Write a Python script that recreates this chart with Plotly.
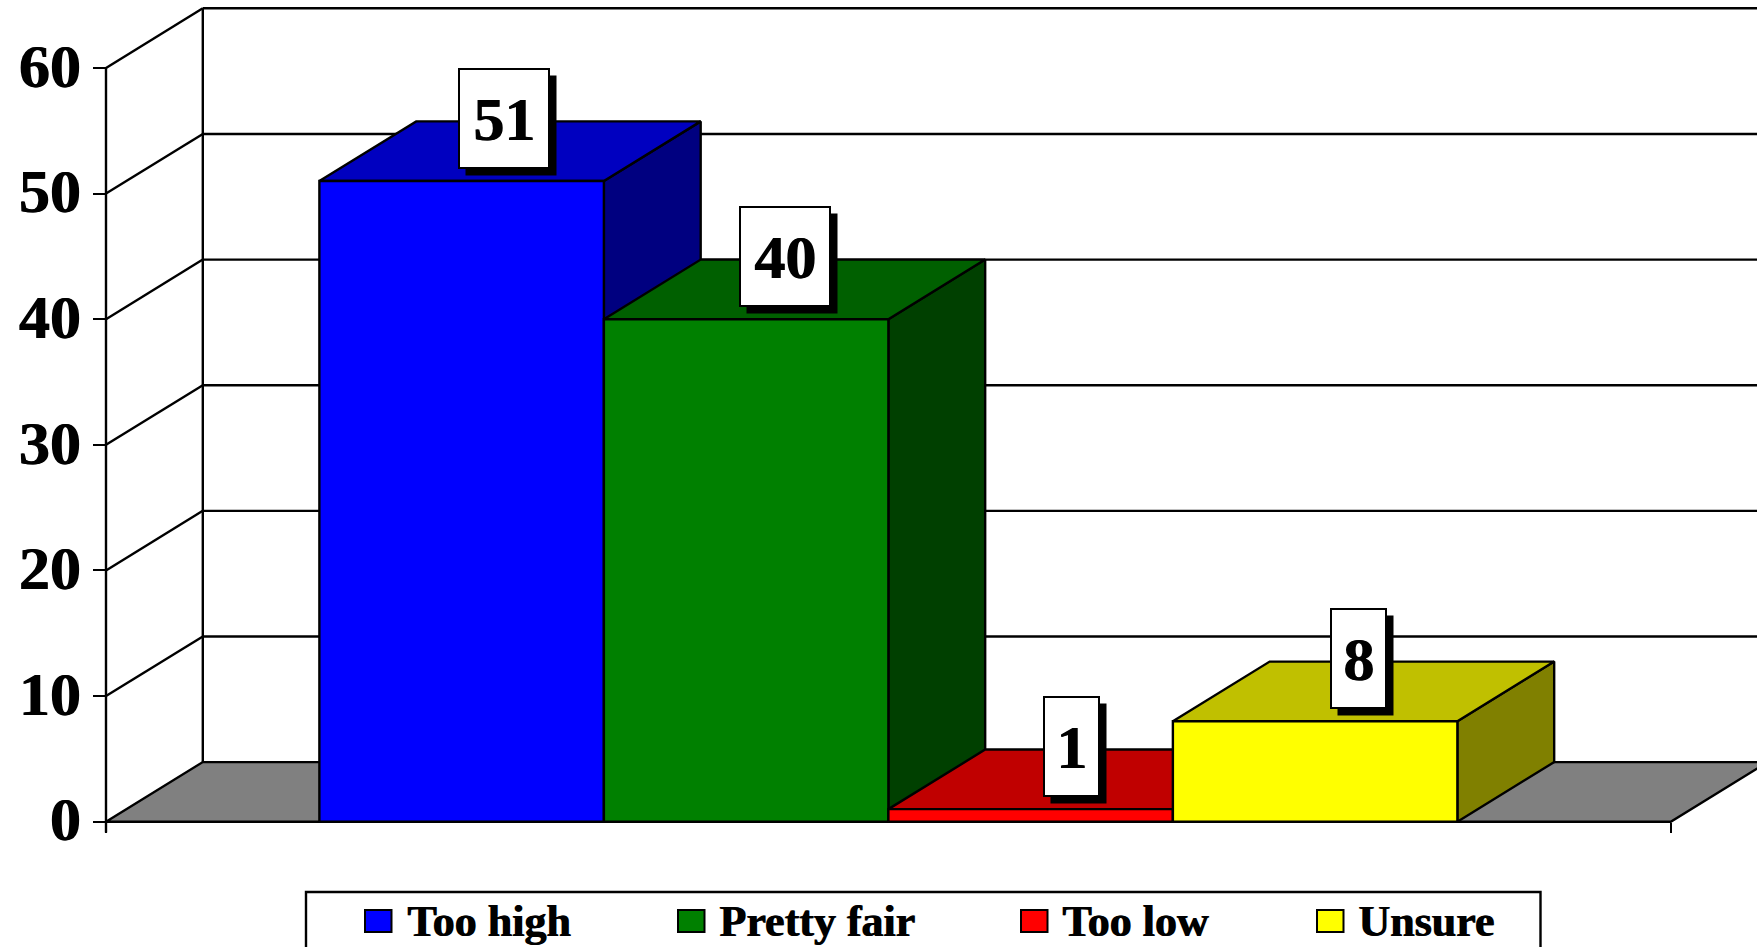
import plotly.graph_objects as go

categories = ["Too high", "Pretty fair", "Too low", "Unsure"]
values = [51, 40, 1, 8]
front_colors = ["#0000FF", "#008000", "#FF0000", "#FFFF00"]
top_colors = ["#0000C0", "#006000", "#C00000", "#C0C000"]
side_colors = ["#000080", "#004000", "#800000", "#808000"]
y_ticks = [0, 10, 20, 30, 40, 50, 60]

W, H = 1757, 947
FONT = "Liberation Serif"
LINE = 2.4
HEAVY = "1px 0 0 black"
PX_PER_BAR = 284.5      # horizontal pixels per bar width
PX_PER_UNIT = 12.563    # vertical pixels per value unit
X0_PX, Y0_PX = 106.0, 821.7
GAP = 0.75
FLOOR = len(values) + 2 * GAP
DX = 96.8 / PX_PER_BAR   # oblique depth, in bar widths
DY = 59.6 / PX_PER_UNIT  # oblique depth, in value units
YTOP = max(y_ticks)

fig = go.Figure()


def poly(xs, ys, fill=None):
    closed = fill is not None
    fig.add_trace(go.Scatter(
        x=xs + xs[:1] if closed else xs,
        y=ys + ys[:1] if closed else ys,
        mode="lines",
        line=dict(color="black", width=LINE),
        fill="toself" if closed else None,
        fillcolor=fill,
        hoverinfo="skip",
        showlegend=False,
    ))


# walls
poly([0, 0], [-0.85, YTOP])
poly([DX, DX], [DY, YTOP + DY])
for t in y_ticks[1:]:
    poly([0, DX], [t, t + DY])
    poly([DX, FLOOR + DX], [t + DY, t + DY])

# floor
poly([0, FLOOR, FLOOR + DX, DX], [0, 0, DY, DY], "#808080")

# bars: side, top, front, left to right
for i, v in enumerate(values):
    l, r = GAP + i, GAP + i + 1
    poly([r, r + DX, r + DX, r], [0, DY, v + DY, v], side_colors[i])
    poly([l, r, r + DX, l + DX], [v, v, v + DY, v + DY], top_colors[i])
    poly([l, r, r, l], [0, 0, v, v], front_colors[i])

annotations = []
label_shift_px = [-6, -10, -8, -5]
LABEL_OFF_Y = 33 / PX_PER_UNIT
for i, v in enumerate(values):
    text = str(v)
    bw = 88 if len(text) == 2 else 53
    cx = GAP + i + 0.5 + DX / 2 + label_shift_px[i] / PX_PER_BAR
    cy = v + DY / 2 + LABEL_OFF_Y
    annotations.append(dict(x=cx, y=cy, xref="x", yref="y", text=" ", showarrow=False,
                            width=bw, height=97, bgcolor="black", xshift=7, yshift=-7,
                            font=dict(family=FONT, size=62)))
    annotations.append(dict(x=cx, y=cy, xref="x", yref="y", text=f"<b>{text}</b>", showarrow=False,
                            width=bw, height=97, bgcolor="white", bordercolor="black",
                            borderwidth=2, borderpad=0,
                            font=dict(family=FONT, size=62, color="black", shadow=HEAVY)))

# legend box, cut off by the bottom of the page as in the original
shapes = [dict(type="rect", xref="paper", yref="paper", x0=306 / W, x1=1540.5 / W,
               y0=-0.05, y1=1 - 892 / H, line=dict(color="black", width=LINE), fillcolor="white")]
legend_swatch_x = [365, 678, 1021, 1317]
legend_text_x = [405, 717, 1060, 1356]
for i, c in enumerate(categories):
    shapes.append(dict(type="rect", xref="paper", yref="paper",
                       x0=legend_swatch_x[i] / W, x1=(legend_swatch_x[i] + 26.5) / W,
                       y0=1 - 932 / H, y1=1 - 910 / H,
                       line=dict(color="black", width=2), fillcolor=front_colors[i]))
    annotations.append(dict(x=legend_text_x[i] / W, y=1 - 921 / H, xref="paper", yref="paper",
                            xanchor="left", yanchor="middle", showarrow=False, text=f"<b>{c}</b>",
                            font=dict(family=FONT, size=44, color="black", shadow=HEAVY)))

fig.update_layout(
    width=W, height=H,
    margin=dict(l=0, r=0, t=0, b=0),
    plot_bgcolor="white", paper_bgcolor="white",
    showlegend=False,
    annotations=annotations,
    shapes=shapes,
    xaxis=dict(
        domain=[0, 1], range=[-X0_PX / PX_PER_BAR, (W - X0_PX) / PX_PER_BAR],
        anchor="free", position=(H - Y0_PX) / H,
        tickmode="array", tickvals=[0, FLOOR], ticktext=["", ""],
        ticks="outside", ticklen=10, tickwidth=2, tickcolor="black",
        showgrid=False, zeroline=False, showline=False,
    ),
    yaxis=dict(
        domain=[0, 1], range=[-(H - Y0_PX) / PX_PER_UNIT, Y0_PX / PX_PER_UNIT],
        anchor="free", position=X0_PX / W,
        tickmode="array", tickvals=y_ticks,
        ticks="outside", ticklen=13, tickwidth=2, tickcolor="black",
        ticklabelstandoff=0, ticklabelshift=-3,
        tickfont=dict(family=FONT, size=62, color="black", weight="bold", shadow=HEAVY),
        showgrid=False, zeroline=False, showline=False,
    ),
)

fig.write_html("out.html", config={"displayModeBar": False},
               post_script="document.body.style.margin='0';")
